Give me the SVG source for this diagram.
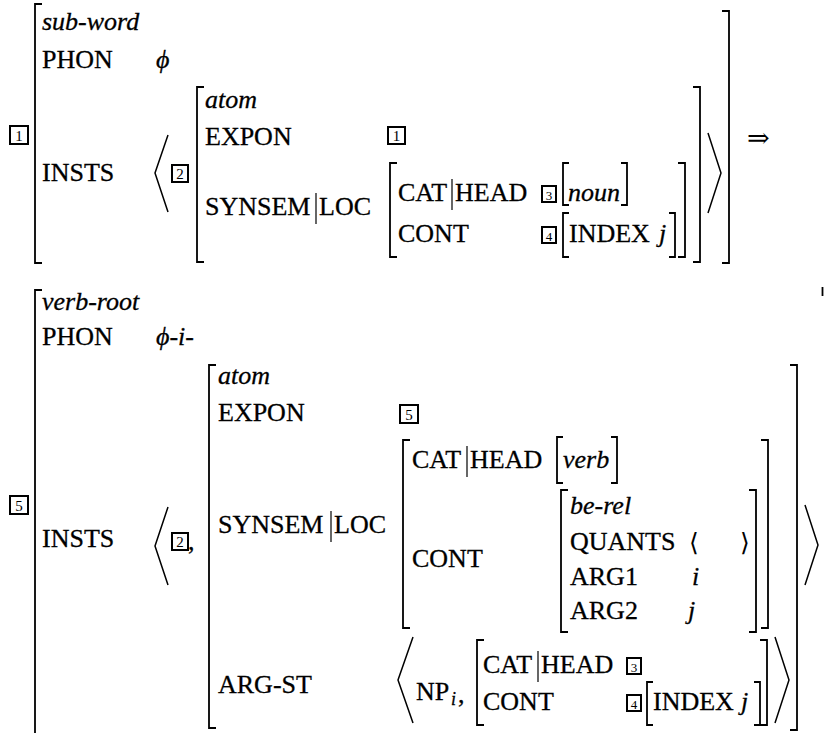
<svg xmlns="http://www.w3.org/2000/svg" width="826" height="733" viewBox="0 0 826 733">
<style>
text{font-family:"Liberation Serif","Times New Roman",serif;font-size:26px;fill:#000;stroke:#000;stroke-width:0.3}
.it{font-style:italic}
.br{fill:none;stroke:#000;stroke-width:1.8;stroke-linecap:butt}
.ang{fill:none;stroke:#000;stroke-width:1.5}
.bar{stroke:#000;stroke-width:1.2}
.tag rect{fill:#fff;stroke:#000;stroke-width:2}
.tag text{font-size:15px;text-anchor:middle;stroke-width:0}
.sm{font-size:18px}
.sym{font-family:"DejaVu Serif",serif;stroke-width:0}
</style>
<rect width="826" height="733" fill="#fff"/>

<!-- TOP AVM -->
<g id="avm-subword">
  <g class="tag"><rect x="10" y="126" width="18" height="18"/><text x="19" y="141">1</text></g>
  <path class="br" d="M42 4H35V263H42"/>
  <text class="it" x="42" y="30">sub-word</text>
  <text x="42" y="68">PHON</text>
  <text class="it" x="156" y="68">ϕ</text>
  <text x="42" y="181">INSTS</text>
  <path class="ang" d="M168 135L155 173L168 212"/>
  <g class="tag"><rect x="172" y="165" width="16" height="17"/><text x="180" y="179">2</text></g>
  <g id="atom-1">
    <path class="br" d="M204 87H197V262H204"/>
    <text class="it" x="205" y="108">atom</text>
    <text x="205" y="145">EXPON</text>
    <g class="tag"><rect x="388" y="127" width="17" height="17"/><text x="396.5" y="141">1</text></g>
    <text x="205" y="215">SYNSEM</text>
    <line class="bar" x1="316" y1="193" x2="316" y2="224"/>
    <text x="319" y="215">LOC</text>
    <g id="loc-1">
      <path class="br" d="M397 163H390V257H397"/>
      <text x="398" y="201">CAT</text>
      <line class="bar" x1="452" y1="179" x2="452" y2="210"/>
      <text x="455" y="201">HEAD</text>
      <g class="tag"><rect x="542" y="186" width="14" height="16"/><text x="549" y="200" style="font-size:13px">3</text></g>
      <path class="br" d="M569 163H563V205H569"/>
      <text class="it" x="568" y="201">noun</text>
      <path class="br" d="M621 163H627V205H621"/>
      <text x="398" y="242">CONT</text>
      <g class="tag"><rect x="542" y="227" width="14" height="16"/><text x="549" y="241" style="font-size:13px">4</text></g>
      <path class="br" d="M569 213H563V257H569"/>
      <text x="569" y="242">INDEX</text>
      <text class="it" x="659" y="242">j</text>
      <path class="br" d="M669 213H675V257H669"/>
      <path class="br" d="M678 163H685V257H678"/>
    </g>
    <path class="br" d="M693 87H700V262H693"/>
  </g>
  <path class="ang" d="M708 133L721 173L708 213"/>
  <path class="br" d="M722 11H729V263H722"/>
</g>

<g id="connectors">
  <text class="sym" x="747" y="147" style="font-size:27px">⇒</text>
</g>

<!-- BOTTOM AVM -->
<g id="avm-verbroot">
  <g class="tag"><rect x="10" y="496" width="18" height="18"/><text x="19" y="511">5</text></g>
  <path class="br" d="M42 290H35V740"/>
  <text class="it" x="42" y="310">verb-root</text>
  <text x="42" y="345">PHON</text>
  <text class="it" x="156" y="345">ϕ-i-</text>
  <text x="42" y="547">INSTS</text>
  <path class="ang" d="M168 507L155 546L168 585"/>
  <g class="tag"><rect x="172" y="533" width="16" height="17"/><text x="180" y="547">2</text></g>
  <text x="188" y="550">,</text>
  <g id="atom-2">
    <path class="br" d="M216 365H209V728H216"/>
    <text class="it" x="218" y="384">atom</text>
    <text x="218" y="421">EXPON</text>
    <g class="tag"><rect x="400" y="405" width="18" height="18"/><text x="409" y="420">5</text></g>
    <text x="218" y="533">SYNSEM</text>
    <line class="bar" x1="331" y1="511" x2="331" y2="542"/>
    <text x="334" y="533">LOC</text>
    <g id="loc-2">
      <path class="br" d="M410 440H403V628H410"/>
      <text x="412" y="468">CAT</text>
      <line class="bar" x1="467" y1="446" x2="467" y2="477"/>
      <text x="470" y="468">HEAD</text>
      <path class="br" d="M563 437H557V483H563"/>
      <text class="it" x="563" y="468">verb</text>
      <path class="br" d="M611 437H617V483H611"/>
      <text x="412" y="567">CONT</text>
      <g id="be-rel">
        <path class="br" d="M568 490H561V632H568"/>
        <text class="it" x="570" y="514">be-rel</text>
        <text x="570" y="550">QUANTS</text>
        <text class="sym" x="689" y="551" style="font-size:25px">⟨</text>
        <text class="sym" x="740" y="551" style="font-size:25px">⟩</text>
        <text x="570" y="585">ARG1</text>
        <text class="it" x="692" y="585">i</text>
        <text x="570" y="619">ARG2</text>
        <text class="it" x="688" y="619">j</text>
        <path class="br" d="M749 490H756V632H749"/>
      </g>
      <path class="br" d="M761 440H768V628H761"/>
    </g>
    <text x="218" y="693">ARG-ST</text>
    <path class="ang" d="M413 637L398 680L413 723"/>
    <text x="416" y="700">NP</text>
    <text class="it sm" x="451" y="705">i</text>
    <text x="458" y="703">,</text>
    <g id="argst-item">
      <path class="br" d="M484 640H477V725H484"/>
      <text x="483" y="673">CAT</text>
      <line class="bar" x1="538" y1="651" x2="538" y2="682"/>
      <text x="541" y="673">HEAD</text>
      <g class="tag"><rect x="627" y="658" width="14" height="16"/><text x="634" y="672" style="font-size:13px">3</text></g>
      <text x="483" y="710">CONT</text>
      <g class="tag"><rect x="627" y="695" width="14" height="16"/><text x="634" y="709" style="font-size:13px">4</text></g>
      <path class="br" d="M653 682H647V725H653"/>
      <text x="653" y="710">INDEX</text>
      <text class="it" x="741" y="710">j</text>
      <path class="br" d="M754 682H760V725H754"/>
      <path class="br" d="M760 640H767V725H760"/>
    </g>
    <path class="ang" d="M775 637L789 680L775 723"/>
    <path class="br" d="M790 365H797V730H790"/>
  </g>
  <path class="ang" d="M805 505L818 545L805 585"/>
  <line class="br" x1="822.5" y1="287" x2="822.5" y2="296"/>
</g>
</svg>
